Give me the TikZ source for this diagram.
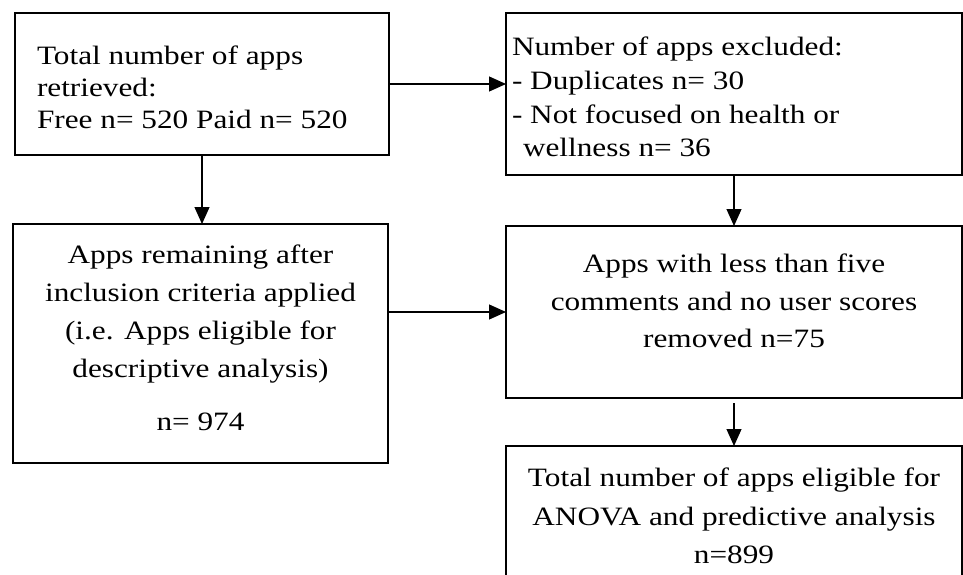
\documentclass[tikz,border=0pt]{standalone}
\usepackage{fontspec}
\setmainfont{Liberation Serif}[FakeStretch=1.18]
\usetikzlibrary{arrows.meta}
\begin{document}
\begin{tikzpicture}[x=1pt,y=-1pt,
  boxnode/.style={draw=black, line width=1.8pt, rectangle, inner sep=0pt, outer sep=0pt},
  txt/.style={inner sep=0pt, outer sep=0pt},
  conn/.style={line width=1.2pt, -{Triangle[length=17pt,width=15pt]}}]
\fill[white] (0,0) rectangle (963,575);
\clip (0,0) rectangle (963,575);
\useasboundingbox (0,0) rectangle (963,575);
% boxes
\node[boxnode, minimum width=374pt, minimum height=142pt] (b1) at (202,84) {};
\node[boxnode, minimum width=456pt, minimum height=162pt] (b2) at (734,94) {};
\node[boxnode, minimum width=375pt, minimum height=239pt] (b3) at (200.5,343.5) {};
\node[boxnode, minimum width=456pt, minimum height=172pt] (b4) at (734,312) {};
\node[boxnode, minimum width=456pt, minimum height=160pt] (b5) at (734,526) {};
% texts
\node[txt, anchor=north west, align=left, font=\fontsize{26.5}{32}\selectfont] (t1) at (37,46)
  {Total number of apps\\retrieved:\\Free n= 520 Paid n= 520};
\node[txt, anchor=north west, align=left, font=\fontsize{26.5}{33.7}\selectfont] (t2) at (512,37)
  {Number of apps excluded:\\- Duplicates n= 30\\- Not focused on health or\\\hspace*{11pt}wellness n= 36};
\node[txt, anchor=north, align=center, font=\fontsize{26.5}{38}\selectfont] (t3) at (200.5,245)
  {Apps remaining after\\inclusion criteria applied\\(i.e. Apps eligible for\\descriptive analysis)\\[15pt]n= 974};
\node[txt, anchor=north, align=center, font=\fontsize{26.5}{37.5}\selectfont] (t4) at (734,254)
  {Apps with less than five\\comments and no user scores\\removed n=75};
\node[txt, anchor=north, align=center, font=\fontsize{26.5}{38.5}\selectfont] (t5) at (734,468)
  {Total number of apps eligible for\\ANOVA and predictive analysis\\n=899};
% connectors
\draw[conn] (b1.east) -- (b1.east -| b2.west);
\draw[conn] (b1.south) -- (b1.south |- b3.north);
\draw[conn] (b3.east |- b4.west) -- (b4.west);
\draw[conn] (b2.south) -- (b4.north);
\draw[conn] ([yshift=-5pt]b4.south) -- (b5.north);
\end{tikzpicture}
\end{document}
